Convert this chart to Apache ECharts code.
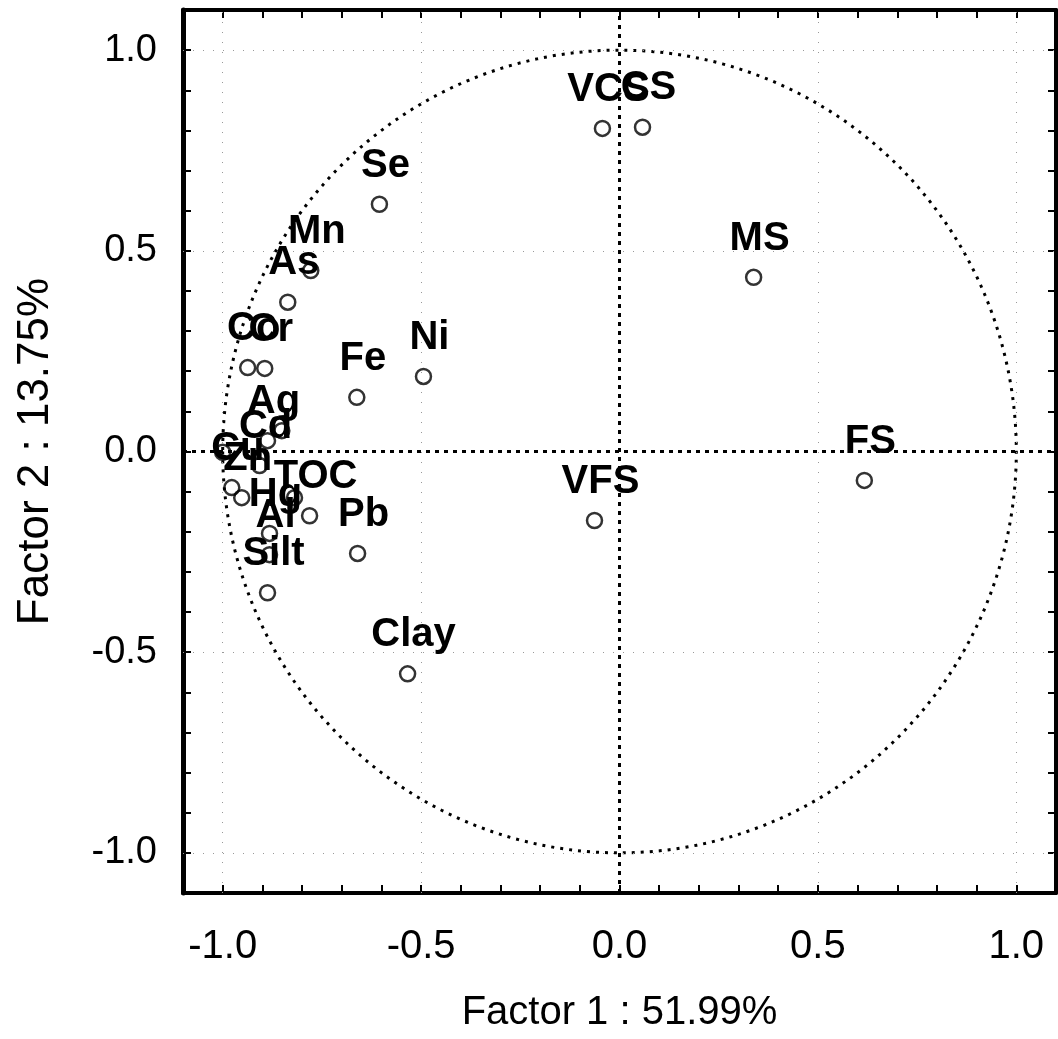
<!DOCTYPE html>
<html>
<head>
<meta charset="utf-8">
<script src="https://cdn.jsdelivr.net/npm/echarts@6/dist/echarts.min.js"></script>
<style>
  html, body { margin: 0; padding: 0; background: #fff; }
  #chart { width: 1058px; height: 1039px; }
</style>
</head>
<body>
<div id="chart"></div>
<script>
// ---- Data ----
const names   = ['VCS','CS','MS','FS','VFS','Clay','Pb','Fe','Ni','Se','Mn','As','Co','Cr','Ag','Cd','Cu','Zn','Hg','TOC','Al','Silt','','',''];
const factor1 = [-0.043, 0.058, 0.338, 0.617, -0.063, -0.534, -0.660, -0.662, -0.494, -0.605, -0.778, -0.836, -0.937, -0.894, -0.887, -0.907, -0.977, -0.952, -0.882, -0.781, -0.882, -0.887, -0.851, -1.000, -0.819];
const factor2 = [0.805, 0.808, 0.434, -0.072, -0.172, -0.554, -0.254, 0.135, 0.187, 0.616, 0.451, 0.372, 0.209, 0.207, 0.027, -0.035, -0.090, -0.115, -0.204, -0.160, -0.257, -0.352, 0.052, -0.002, -0.115];
const gridValues = [-1.0, -0.5, 0.5, 1.0];
const axisMin = -1.1, axisMax = 1.1, tickStep = 0.1;
const xTitle = 'Factor 1 : 51.99%';
const yTitle = 'Factor 2 : 13.75%';

const FONT = '"Liberation Sans", Arial, sans-serif';
const points = names.map((n, i) => ({ name: n, value: [factor1[i], factor2[i]] }));

function majorLabel(v) {
  const k = v * 2;
  if (Math.abs(k - Math.round(k)) < 1e-6) return (Math.round(k) / 2).toFixed(1);
  return '';
}

const baseAxis = {
  type: 'value', min: axisMin, max: axisMax, interval: tickStep,
  axisLine: { show: true, onZero: false, lineStyle: { color: '#000', width: 4 } },
  axisTick: { show: true, inside: true, length: 8, lineStyle: { color: '#000', width: 2 } },
  splitLine: { show: false }
};

const chart = echarts.init(document.getElementById('chart'), null, { renderer: 'canvas' });
chart.setOption({
  animation: false,
  backgroundColor: '#fff',
  grid: { left: 183, right: 2, top: 10, bottom: 146, containLabel: false, outerBoundsMode: 'none' },
  xAxis: [
    Object.assign({}, baseAxis, {
      position: 'bottom',
      name: xTitle, nameLocation: 'middle', nameGap: 100,
      nameTextStyle: { fontFamily: FONT, fontSize: 40, color: '#000' },
      axisLabel: { show: true, margin: 34, formatter: majorLabel, fontFamily: FONT, fontSize: 40, color: '#000' }
    }),
    Object.assign({}, baseAxis, { position: 'top', axisLabel: { show: false } })
  ],
  yAxis: [
    Object.assign({}, baseAxis, {
      position: 'left',
      name: yTitle, nameLocation: 'middle', nameGap: 125, nameRotate: 90,
      nameTextStyle: { fontFamily: FONT, fontSize: 44, color: '#000' },
      axisLine: { show: true, onZero: false, lineStyle: { color: '#000', width: 5 } },
      axisLabel: { show: true, margin: 26, formatter: majorLabel, fontFamily: FONT, fontSize: 38, color: '#000' }
    }),
    Object.assign({}, baseAxis, { position: 'right', axisLabel: { show: false } })
  ],
  series: [
    {
      // faint dotted grid lines at major ticks
      type: 'scatter', data: [], silent: true,
      markLine: {
        silent: true, symbol: ['none', 'none'], label: { show: false },
        lineStyle: { color: '#999', width: 1, type: [1, 9] },
        data: gridValues.map(v => ({ xAxis: v })).concat(gridValues.map(v => ({ yAxis: v })))
      }
    },
    {
      // unit circle
      type: 'custom', silent: true, data: [[0, 0]],
      renderItem: function (params, api) {
        const c = api.coord([0, 0]);
        const s = api.size([1, 1]);
        const rx = s[0], ry = s[1];
        const d = 'M ' + (c[0] - rx) + ' ' + c[1] +
          ' A ' + rx + ' ' + ry + ' 0 1 0 ' + (c[0] + rx) + ' ' + c[1] +
          ' A ' + rx + ' ' + ry + ' 0 1 0 ' + (c[0] - rx) + ' ' + c[1] + ' Z';
        return {
          type: 'path',
          shape: { pathData: d },
          style: { fill: 'none', stroke: '#000', lineWidth: 3, lineDash: [3, 6] }
        };
      }
    },
    {
      type: 'scatter',
      data: points,
      symbol: 'circle',
      symbolSize: 15,
      itemStyle: { color: 'rgba(255,255,255,0)', borderColor: '#000', borderWidth: 2.5 },
      label: {
        show: true, position: 'top', distance: 0, offset: [6, -10],
        formatter: '{b}', fontFamily: FONT, fontWeight: 'bold', fontSize: 40,
        color: '#000', textBorderWidth: 0, opacity: 1
      },
      markLine: {
        silent: true, symbol: ['none', 'none'], label: { show: false },
        lineStyle: { color: '#000', width: 3, type: [4, 5] },
        data: [{ xAxis: 0 }, { yAxis: 0 }]
      },
      z: 5
    }
  ]
});
</script>
</body>
</html>
